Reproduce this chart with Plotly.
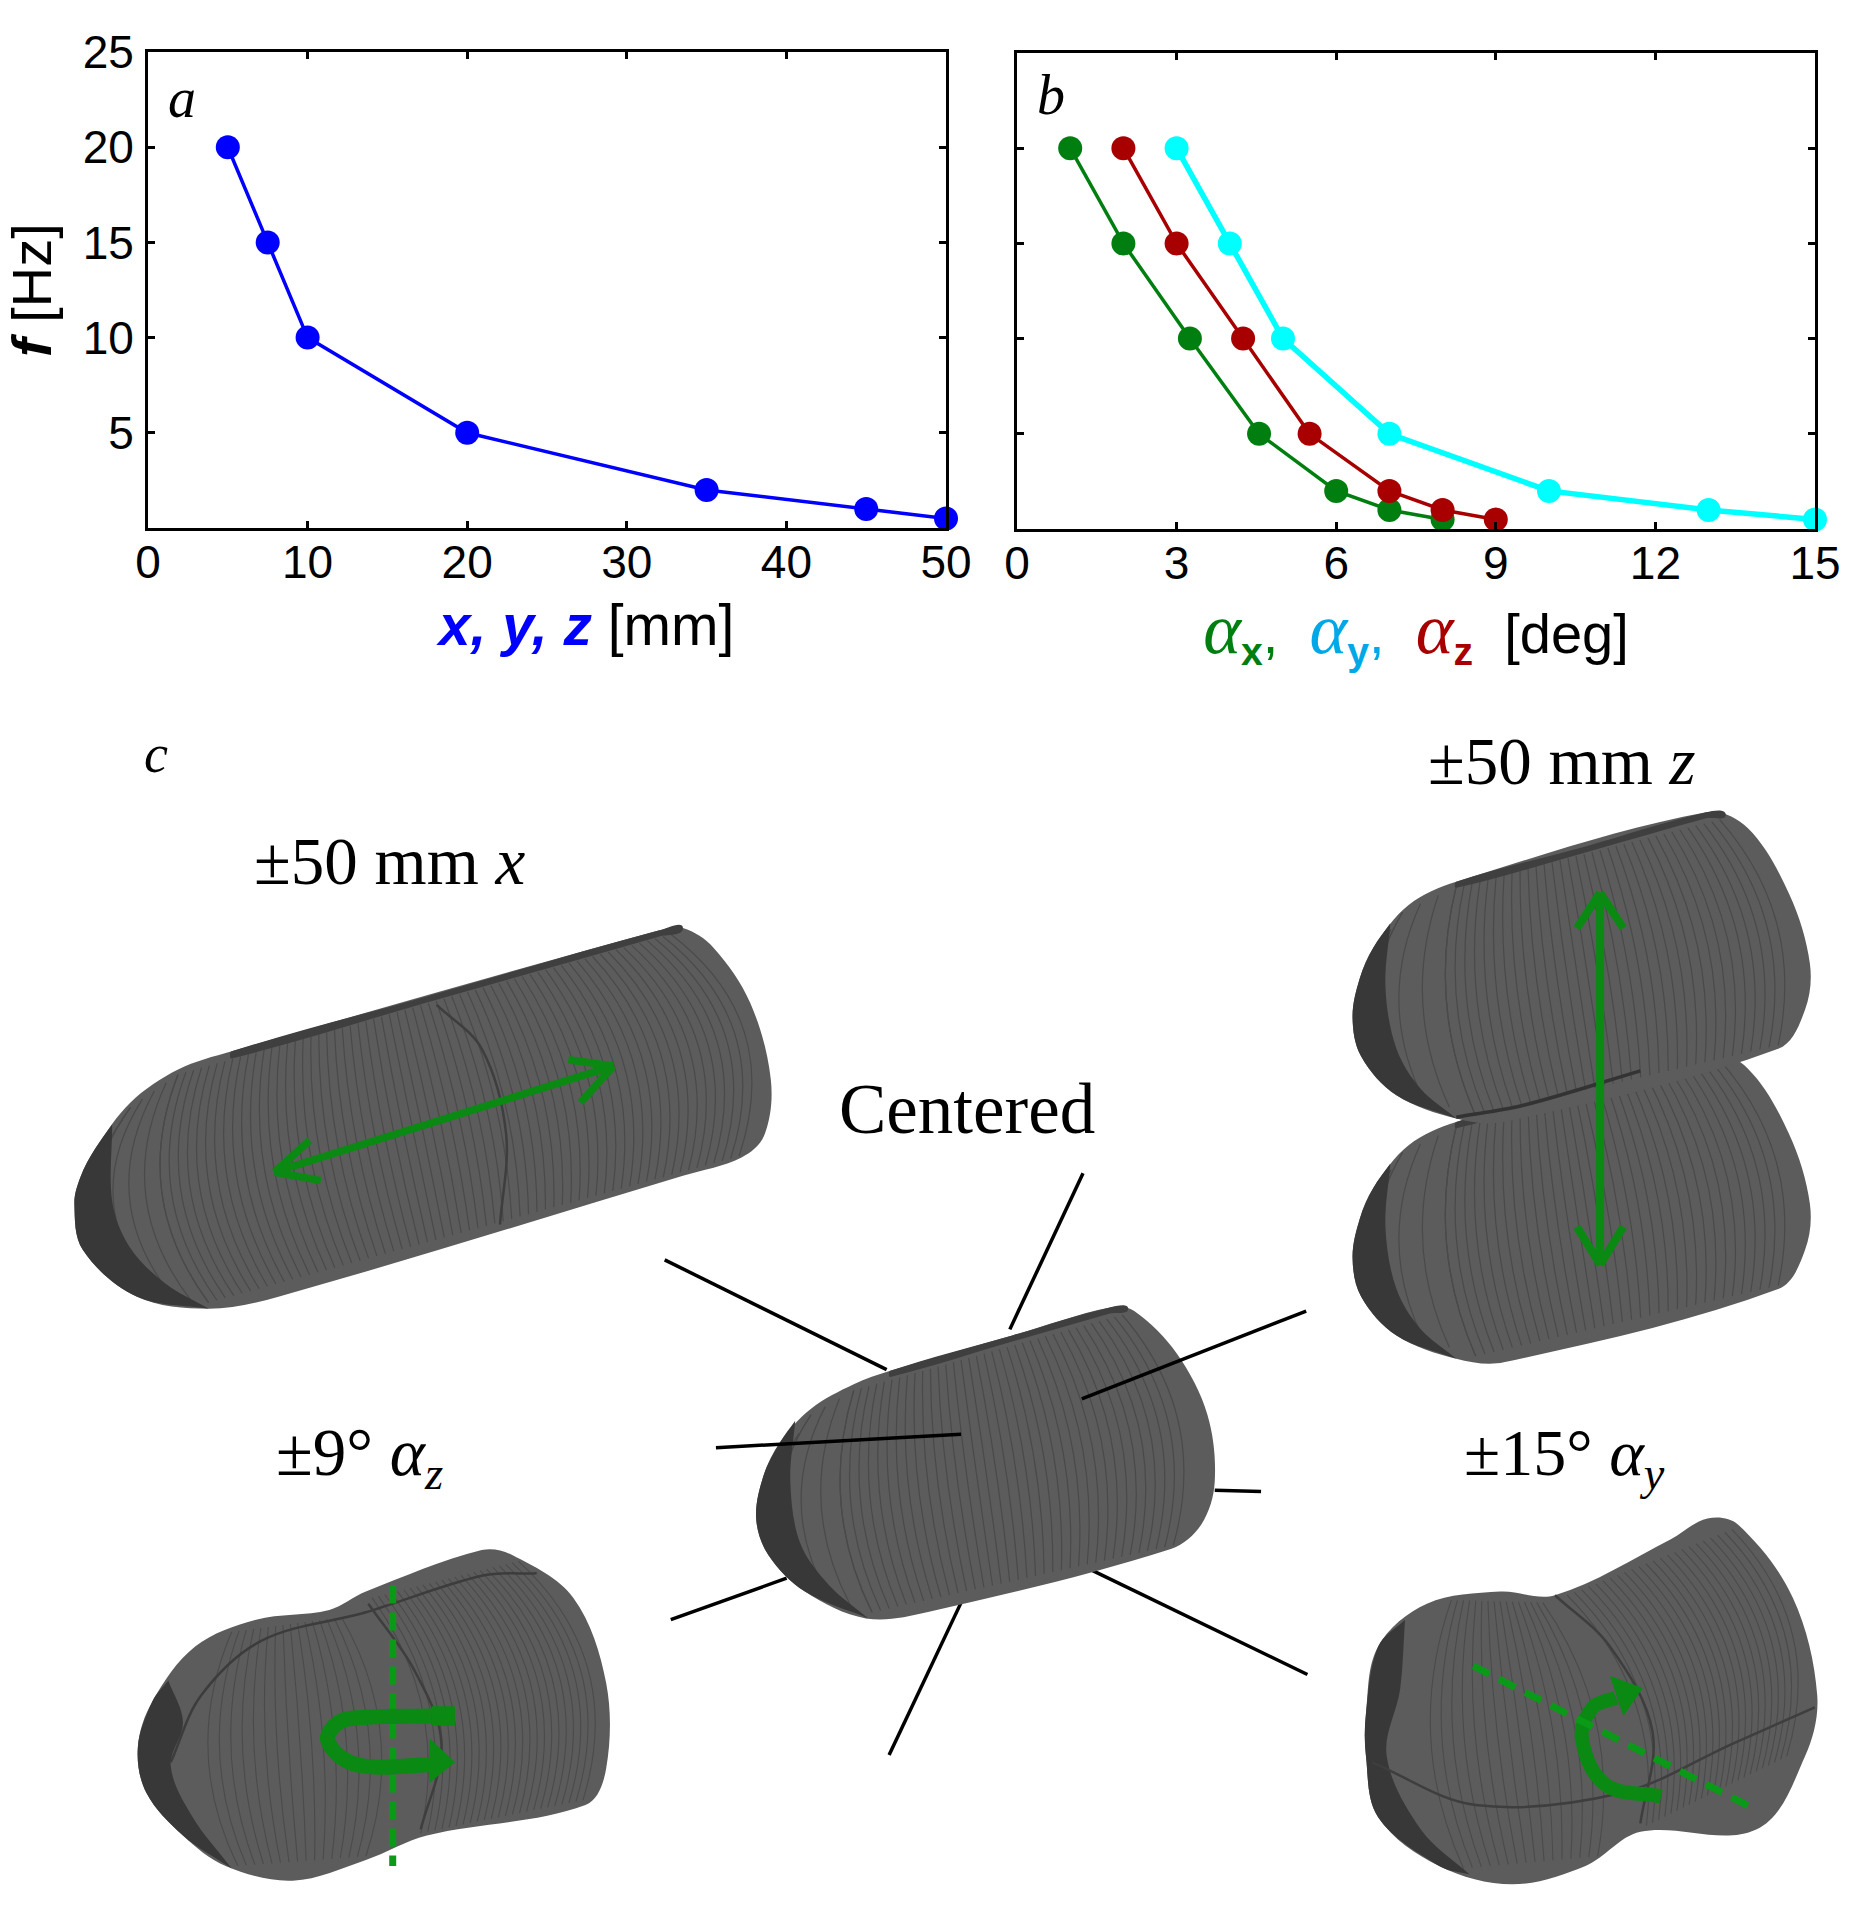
import plotly.graph_objects as go

# ---------- chart data ----------
freq_hz = [20, 15, 10, 5, 2, 1, 0.5]
displacement_mm = [5, 7.5, 10, 20, 35, 45, 50]
alpha_x_deg = [1, 2, 3.25, 4.55, 6, 7, 8]
alpha_y_deg = [3, 4, 5, 7, 10, 13, 15]
alpha_z_deg = [2, 3, 4.25, 5.5, 7, 8, 9]
x_ticks_a = [0, 10, 20, 30, 40, 50]
x_ticks_b = [0, 3, 6, 9, 12, 15]
y_ticks = [5, 10, 15, 20, 25]

W, H = 1866, 1915
S = W / 1530.0  # illustration sketch units -> page pixels
SANS = "Liberation Sans"
SERIF = "Liberation Serif"
BLUE, GREEN, RED, CYAN = "#0000ff", "#007f10", "#a80000", "#00ffff"
ARROW = "#0a8a12"
BODY, DARK, RING = "#5c5c5c", "#383838", "#4a4a4a"


def px(x):
    return x / W


def py(y):
    return 1 - y / H


def ux(x):
    return x * S / W


def uy(y):
    return 1 - y * S / H


def smooth(points, closed=True):
    """Smooth spline through sketch points, as an SVG path in paper coordinates."""
    n = len(points)
    P = [(a * S, b * S) for a, b in points]

    def tangent(i):
        if closed:
            a, b = P[(i - 1) % n], P[(i + 1) % n]
        else:
            a, b = P[max(i - 1, 0)], P[min(i + 1, n - 1)]
        dx, dy = b[0] - a[0], b[1] - a[1]
        ln = (dx * dx + dy * dy) ** 0.5 or 1
        return dx / ln, dy / ln

    def out(p):
        return f"{p[0] / W:.5f},{1 - p[1] / H:.5f}"

    d = "M" + out(P[0])
    for i in range(n if closed else n - 1):
        j = (i + 1) % n
        seg_len = ((P[j][0] - P[i][0]) ** 2 + (P[j][1] - P[i][1]) ** 2) ** 0.5
        t1, t2 = tangent(i), tangent(j)
        c1 = (P[i][0] + t1[0] * seg_len / 3, P[i][1] + t1[1] * seg_len / 3)
        c2 = (P[j][0] - t2[0] * seg_len / 3, P[j][1] - t2[1] * seg_len / 3)
        d += "C" + out(c1) + " " + out(c2) + " " + out(P[j])
    return d + ("Z" if closed else "")


shapes = []


def blob(points, color=BODY):
    shapes.append(dict(type="path", xref="paper", yref="paper", path=smooth(points),
                       fillcolor=color, line=dict(width=0)))


def crescent(outer, inner, color=DARK):
    """Sharp-tipped shade: outer runs tip to tip, inner returns between the same tips."""
    back = smooth([outer[-1]] + inner + [outer[0]], closed=False)
    path = smooth(outer, closed=False) + back[back.index("C"):] + "Z"
    shapes.append(dict(type="path", xref="paper", yref="paper", path=path, fillcolor=color, line=dict(width=0)))


def poly(points, color):
    d = "M" + "L".join(f"{ux(a):.5f},{uy(b):.5f}" for a, b in points) + "Z"
    shapes.append(dict(type="path", xref="paper", yref="paper", path=d, fillcolor=color, line=dict(width=0)))


def curve(points, color, width, dash="solid"):
    shapes.append(dict(type="path", xref="paper", yref="paper", path=smooth(points, closed=False),
                       line=dict(color=color, width=width, dash=dash)))


def seg(a, b, color="#000000", width=3.5, dash="solid"):
    shapes.append(dict(type="line", xref="paper", yref="paper", x0=ux(a[0]), y0=uy(a[1]),
                       x1=ux(b[0]), y1=uy(b[1]), line=dict(color=color, width=width, dash=dash)))


def arrowhead(tip, arm1, arm2, width):
    seg(arm1, tip, ARROW, width)
    seg(arm2, tip, ARROW, width)


def rings(t0, t1, b0, b1, count, bulge0, bulge1=None, color=RING, width=1.2):
    """Fine lattice rings on a capsule: arcs between an upper and a lower guide."""
    bulge1 = bulge0 if bulge1 is None else bulge1
    d = ""
    for i in range(count):
        f = i / (count - 1)
        a = (t0[0] + (t1[0] - t0[0]) * f, t0[1] + (t1[1] - t0[1]) * f)
        b = (b0[0] + (b1[0] - b0[0]) * f, b0[1] + (b1[1] - b0[1]) * f)
        m = ((a[0] + b[0]) / 2, (a[1] + b[1]) / 2)
        ex, ey = b[1] - a[1], a[0] - b[0]
        ln = (ex * ex + ey * ey) ** 0.5 or 1
        k = 2 * (bulge0 + (bulge1 - bulge0) * f)
        c = (m[0] + ex / ln * k, m[1] + ey / ln * k)
        d += f"M{ux(a[0]):.5f},{uy(a[1]):.5f}Q{ux(c[0]):.5f},{uy(c[1]):.5f} {ux(b[0]):.5f},{uy(b[1]):.5f}"
    shapes.append(dict(type="path", xref="paper", yref="paper", path=d,
                       line=dict(color=color, width=width)))


def shifted(points, dy):
    return [(a, b + dy) for a, b in points]


# ---------- +-50 mm x capsule ----------
blob([(61, 987), (66, 965), (78, 942), (107, 904), (146, 877), (190, 862), (540, 763), (560, 761), (585, 777),
      (615, 822), (632, 885), (627, 930), (608, 949), (560, 964), (229, 1063), (171, 1073), (112, 1063), (68, 1025)])
rings((146, 881), (550, 766), (171, 1068), (606, 948), 64, -26, 34)
rings((146, 881), (107, 908), (171, 1068), (112, 1059), 5, -26, -30)
rings((107, 908), (82, 948), (112, 1059), (72, 1022), 5, -30, -12)
crescent([(92, 922), (78, 942), (66, 965), (61, 987), (68, 1025), (112, 1063), (171, 1073)],
         [(135, 1052), (106, 1022), (92, 985)])
curve([(358, 824), (395, 860), (415, 930), (410, 1004)], "#3e3e3e", 2.5)
blob([(190, 862), (350, 817), (540, 763), (560, 761), (540, 768), (350, 822), (190, 868)], "#3f3f3f")
seg((225, 961), (503, 874), ARROW, 7.5)
arrowhead((225, 961), (254, 935), (263, 968), 7.5)
arrowhead((503, 874), (466, 869), (476, 904), 7.5)

# ---------- centred capsule and its spokes ----------
seg((545, 1033), (727, 1123))
seg((888, 962), (828, 1090))
seg((550, 1328), (645, 1294))
seg((789, 1312), (729, 1439))
seg((890, 1285), (1072, 1373))
seg((996, 1222), (1034, 1223))
blob([(620, 1245), (626, 1210), (640, 1182), (665, 1155), (700, 1135), (730, 1124), (830, 1095), (910, 1072), (930, 1075), (965, 1110),
      (990, 1160), (996, 1215), (985, 1250), (960, 1270), (760, 1322), (710, 1327), (660, 1305), (630, 1275)])
rings((700, 1140), (920, 1078), (715, 1322), (962, 1267), 36, -18, 26)
rings((700, 1140), (665, 1160), (715, 1322), (660, 1301), 4, -18, -22)
rings((665, 1160), (636, 1205), (660, 1301), (628, 1268), 4, -22, -10)
crescent([(652, 1165), (640, 1182), (626, 1210), (620, 1245), (630, 1275), (660, 1305), (712, 1327)],
         [(680, 1300), (656, 1265), (648, 1215)])
blob([(730, 1124), (830, 1095), (910, 1072), (925, 1073), (910, 1077), (830, 1100), (730, 1129)], "#3f3f3f")
seg((587, 1187), (788, 1176))
seg((1071, 1075), (887, 1147))

# ---------- +-50 mm z capsules ----------
z_capsule = [(1109, 834), (1115, 802), (1126, 777), (1155, 742), (1194, 723), (1399, 666), (1433, 679), (1467, 733),
             (1484, 790), (1480, 828), (1458, 860), (1233, 920), (1194, 917), (1145, 898), (1116, 866)]
for dy in (197, 0):
    blob(shifted(z_capsule, dy))
    rings((1194, 727 + dy), (1410, 672 + dy), (1210, 915 + dy), (1458, 857 + dy), 34, -16, 24)
    rings((1194, 727 + dy), (1150, 748 + dy), (1210, 915 + dy), (1145, 893 + dy), 4, -16, -20)
    rings((1150, 748 + dy), (1122, 790 + dy), (1145, 893 + dy), (1116, 860 + dy), 4, -20, -8)
    crescent(shifted([(1140, 757), (1126, 777), (1115, 802), (1109, 834), (1116, 866), (1145, 898), (1194, 917)], dy),
             shifted([(1165, 893), (1145, 860), (1136, 810)], dy))
    blob(shifted([(1194, 723), (1300, 694), (1399, 666), (1415, 668), (1399, 671), (1300, 699), (1194, 728)], dy), "#3f3f3f")
curve([(1194, 916), (1250, 906), (1345, 878)], "#333333", 3.5)
seg((1312, 732), (1312, 1035), ARROW, 8)
arrowhead((1312, 732), (1293, 761), (1331, 761), 8)
arrowhead((1312, 1037), (1293, 1006), (1331, 1006), 8)

# ---------- +-9 deg alpha_z capsule ----------
az_body = [(113, 1433), (125, 1395), (160, 1350), (210, 1328), (270, 1320), (300, 1305), (395, 1271), (420, 1275),
           (470, 1310), (497, 1380), (497, 1450), (480, 1480), (350, 1505), (300, 1525), (240, 1542), (185, 1530),
           (150, 1505), (120, 1470)]
blob(az_body)
rings((190, 1338), (280, 1326), (195, 1530), (300, 1522), 16, -22, 22, color="#4b4b4b", width=1.1)
rings((305, 1310), (425, 1280), (345, 1503), (478, 1476), 24, 22, 32, color="#4b4b4b", width=1.1)
crescent([(138, 1378), (125, 1395), (113, 1433), (120, 1470), (150, 1505), (190, 1532)],
         [(158, 1490), (140, 1448), (150, 1412)])
curve([(140, 1445), (165, 1390), (215, 1345), (300, 1322), (395, 1292), (440, 1290)], "#3c3c3c", 2.5)
curve([(302, 1315), (340, 1370), (362, 1430), (345, 1500)], "#3e3e3e", 2.5)
seg((322, 1300), (322, 1530), "#0a9a18", 7, "18px,9px")
curve([(354, 1407), (300, 1408), (278, 1412), (269, 1428), (293, 1447), (354, 1447)], ARROW, 15)
poly([(373, 1399), (354, 1399), (354, 1415), (373, 1415)], ARROW)
poly([(352, 1425), (373, 1445), (352, 1462)], ARROW)

# ---------- +-15 deg alpha_y capsule ----------
ay_body = [(1120, 1405), (1130, 1350), (1170, 1315), (1230, 1305), (1275, 1308), (1370, 1262), (1400, 1245), (1425, 1250),
           (1470, 1310), (1490, 1390), (1480, 1440), (1440, 1500), (1345, 1502), (1300, 1530), (1240, 1545), (1180, 1530),
           (1130, 1490), (1120, 1440)]
blob(ay_body)
rings((1190, 1312), (1265, 1314), (1200, 1532), (1310, 1522), 16, -22, 22, color="#4b4b4b", width=1.1)
rings((1285, 1308), (1420, 1254), (1350, 1497), (1465, 1440), 24, 24, 28, color="#4b4b4b", width=1.1)
crescent([(1152, 1328), (1130, 1350), (1120, 1405), (1120, 1440), (1130, 1490), (1180, 1530), (1205, 1537)],
         [(1165, 1500), (1137, 1440), (1148, 1385)])
curve([(1275, 1308), (1320, 1350), (1355, 1420), (1345, 1495)], "#3e3e3e", 2.5)
curve([(1125, 1445), (1210, 1480), (1330, 1470), (1420, 1430), (1488, 1400)], "#3e3e3e", 2.5)
curve([(1362, 1473), (1316, 1463), (1297, 1425), (1306, 1400), (1325, 1392)], ARROW, 14)
poly([(1347, 1384), (1320, 1374), (1331, 1407)], ARROW)
seg((1208, 1366), (1440, 1484), "#0a9a18", 7, "18px,11px")

# ---------- text labels placed on the page ----------
annotations = []


def label(text, x, y, size, family=SERIF, color="#000000"):
    annotations.append(dict(text=text, x=ux(x), y=uy(y), xref="paper", yref="paper", xanchor="center",
                            yanchor="middle", showarrow=False, font=dict(size=size, family=family, color=color)))


label("<i>a</i>", 149, 80, 56)
label("<i>b</i>", 862, 78, 56)
label("<i>c</i>", 128, 618, 54)
label("±50 mm <i>x</i>", 320, 706, 67)
label("±50 mm <i>z</i>", 1281, 624, 67)
label("Centered", 793, 909, 71)
label("±9° <i>α<sub>z</sub></i>", 295, 1195, 67)
label("±15° <i>α<sub>y</sub></i>", 1283, 1195, 66)

# ---------- plots ----------
fig = go.Figure()


def series(x, y, color, width, xa, ya):
    fig.add_trace(go.Scatter(x=x, y=y, mode="lines+markers", xaxis=xa, yaxis=ya, cliponaxis=False, showlegend=False,
                             line=dict(color=color, width=width), marker=dict(color=color, size=24)))


series(displacement_mm, freq_hz, BLUE, 3.5, "x", "y")
series(alpha_y_deg, freq_hz, CYAN, 5.5, "x2", "y2")
series(alpha_x_deg, freq_hz, GREEN, 3.5, "x2", "y2")
series(alpha_z_deg, freq_hz, RED, 3.5, "x2", "y2")

axis_common = dict(showline=True, linecolor="#000000", linewidth=3, mirror="ticks", ticks="inside", ticklen=7,
                   tickwidth=3, tickcolor="#000000", showgrid=False, zeroline=False, automargin=False,
                   tickfont=dict(family=SANS, size=46, color="#000000"))


def alpha(color, sub):
    return (f'<i><span style="font-family:Liberation Serif;font-size:72px;color:{color}">α</span></i>'
            f'<sub><b><span style="color:{color}">{sub}</span></b></sub>')


fig.update_layout(
    width=W, height=H, autosize=False, margin=dict(l=0, r=0, t=0, b=0),
    paper_bgcolor="#ffffff", plot_bgcolor="#ffffff", showlegend=False,
    shapes=shapes, annotations=annotations,
    xaxis=dict(axis_common, domain=[px(148), px(946)], range=[0, 50], tickvals=x_ticks_a, anchor="y",
               ticklabelstandoff=-8,
               title=dict(text='\u200b\u00a0\u00a0\u00a0\u00a0\u00a0<b><i><span style="color:#0000ff">x, y, z</span></i></b> [mm]',
                          font=dict(family=SANS, size=57, color="#000000"), standoff=18)),
    yaxis=dict(axis_common, domain=[py(528), py(52)], range=[0, 25], tickvals=y_ticks, anchor="x",
               ticklabelstandoff=2,
               title=dict(text="<b><i>f</i></b> [Hz]", font=dict(family=SANS, size=56, color="#000000"), standoff=14)),
    xaxis2=dict(axis_common, domain=[px(1017), px(1815)], range=[0, 15], tickvals=x_ticks_b, anchor="y2",
                ticklabelstandoff=-8,
                title=dict(text=(alpha("#007f10", "x") + '<span style="color:#007f10">,</span>\u00a0 '
                                 + alpha("#00a8e8", "y") + '<span style="color:#00a8e8">,</span>\u00a0 '
                                 + alpha("#a80000", "z") + "\u00a0 [deg]"),
                           font=dict(family=SANS, size=56, color="#000000"), standoff=18)),
    yaxis2=dict(axis_common, domain=[py(529), py(53)], range=[0, 25], tickvals=y_ticks, showticklabels=False,
                anchor="x2"),
)

fig.write_html("out.html", post_script="document.body.style.margin='0';", config={"displayModeBar": False})
